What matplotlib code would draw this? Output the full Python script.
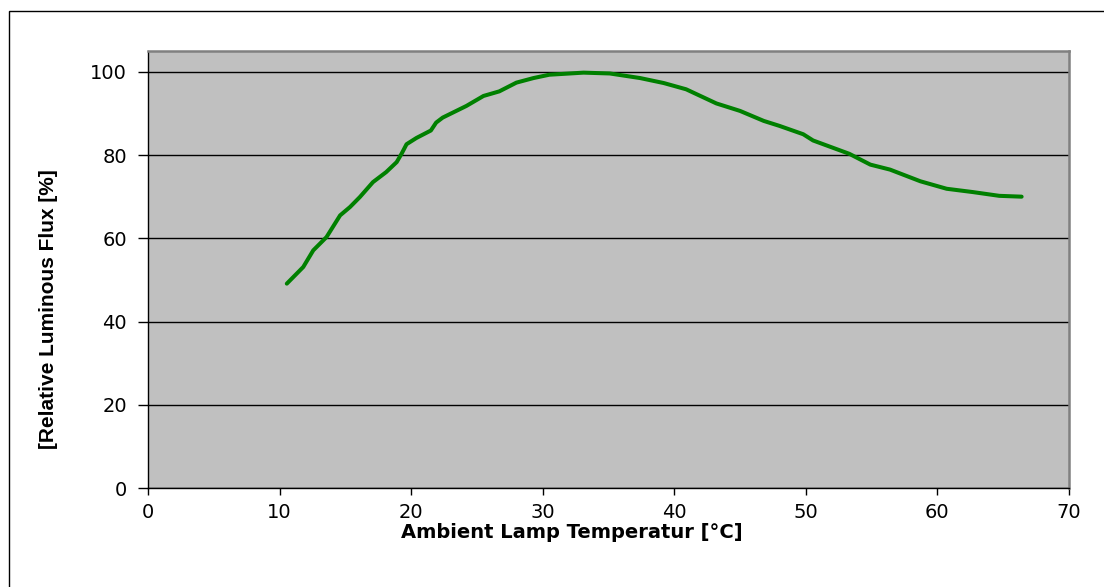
import matplotlib
matplotlib.use("Agg")
import matplotlib.pyplot as plt
from matplotlib.patches import Rectangle

plt.rcParams['font.family'] = ['DejaVu Sans']

temperature = [10.55, 11.8, 12.56, 13.57, 14.6, 15.35, 16.1, 17.1, 18.1, 18.9, 19.27, 19.65,
               20.4, 21.5, 21.9, 22.4, 24.2, 25.5, 26.7, 28.0, 29.3, 30.5, 33.1, 35.1,
               37.4, 39.2, 40.9, 43.2, 45.0, 46.8, 48.0, 49.8, 50.55, 53.3, 54.9, 56.4,
               58.7, 60.7, 62.7, 64.7, 66.4]
flux = [49.1, 53.1, 57.1, 60.3, 65.5, 67.5, 69.9, 73.5, 75.9, 78.3, 80.3, 82.6,
        84.1, 85.9, 87.8, 89.0, 91.8, 94.2, 95.3, 97.4, 98.5, 99.3, 99.8, 99.6,
        98.5, 97.3, 95.8, 92.4, 90.6, 88.2, 87.0, 85.0, 83.5, 80.3, 77.7, 76.5,
        73.7, 71.9, 71.1, 70.2, 70.0]
x_ticks = [0, 10, 20, 30, 40, 50, 60, 70]
y_ticks = [0, 20, 40, 60, 80, 100]

fig = plt.figure(figsize=(11.04, 5.87), dpi=100)
fig.patch.set_facecolor('white')
# outer chart border
fig.patches.append(Rectangle((8.5/1104, -0.5), 2.0, 1.5 - 11/587, transform=fig.transFigure,
                             fill=False, edgecolor='black', linewidth=1.0))

ax = fig.add_axes([148/1104, 1-488/587, (1069-148)/1104, (488-51)/587])
ax.set_facecolor('#C0C0C0')
ax.plot(temperature, flux, color='#008000', linewidth=2.9, solid_capstyle='round',
        solid_joinstyle='round', zorder=3)

ax.set_xlim(0, 70)
ax.set_ylim(0, 105)
ax.set_xticks(x_ticks)
ax.set_yticks(y_ticks)
ax.yaxis.grid(True, color='black', linewidth=1.0)
ax.set_axisbelow(True)

for s in ['left', 'bottom']:
    ax.spines[s].set_color('black')
    ax.spines[s].set_linewidth(1.0)
for s in ['top', 'right']:
    ax.spines[s].set_color('#808080')
    ax.spines[s].set_linewidth(1.8)

ax.tick_params(axis='x', direction='out', length=5, width=1, color='black',
               labelsize=14, pad=6)
ax.tick_params(axis='y', direction='out', length=7, width=1, color='black',
               labelsize=14, pad=8)

ax.set_xlabel('Ambient Lamp Temperatur [°C]', fontsize=14, fontweight='bold')
ax.xaxis.set_label_coords((572 - 148) / 921, (488 - 532) / 437)
ax.xaxis.label.set_va('center')
ax.set_ylabel('[Relative Luminous Flux [%]', fontsize=15, fontweight='bold',
              family=['Liberation Sans', 'DejaVu Sans'])
ax.yaxis.set_label_coords((49 - 148) / 921, (488 - 309) / 437)
ax.yaxis.label.set_va('center')

fig.savefig('out.png', dpi=100)
